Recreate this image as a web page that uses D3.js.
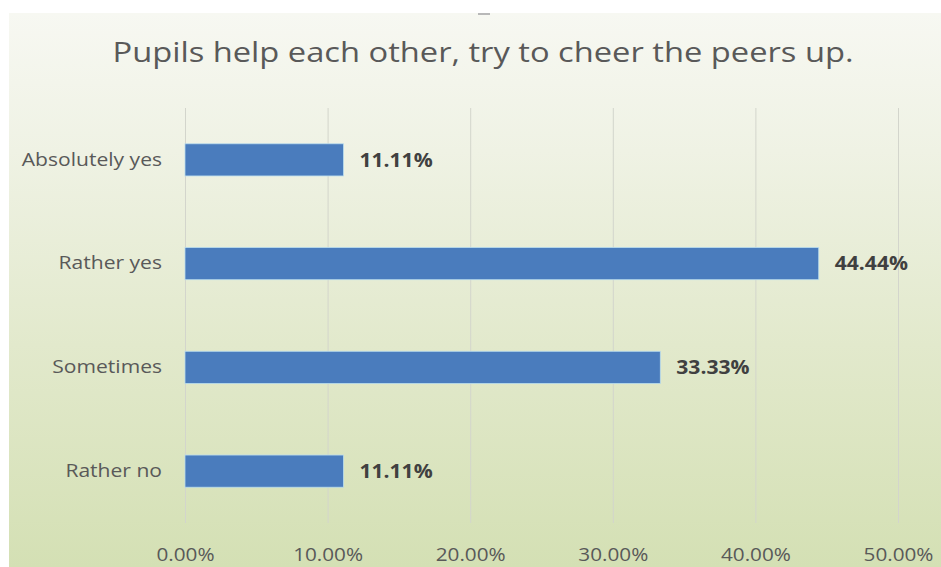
<!DOCTYPE html>
<html><head><meta charset="utf-8">
<script src="https://cdn.jsdelivr.net/npm/d3@7"></script>
<style>body{margin:0;background:#fff}svg{display:block}</style>
</head><body><svg id="c" width="941" height="567"></svg>
<script>
const categories = ["Absolutely yes", "Rather yes", "Sometimes", "Rather no"];
const values = [11.11, 44.44, 33.33, 11.11];
const tickValues = [0, 10, 20, 30, 40, 50];
const title = "Pupils help each other, try to cheer the peers up.";

const W = 941, H = 567;
const FONT = "'Open Sans', 'Noto Sans', sans-serif";
const svg = d3.select("#c");

// widen glyphs horizontally (reference text is horizontally stretched)
function stretch(sel, factor) {
  sel.each(function () {
    const w = this.getComputedTextLength();
    d3.select(this).attr("textLength", w * factor).attr("lengthAdjust", "spacingAndGlyphs");
  });
}

const defs = svg.append("defs");
const grad = defs.append("linearGradient").attr("id", "bg")
  .attr("x1", 0).attr("y1", 0).attr("x2", 0).attr("y2", 1);
grad.append("stop").attr("offset", "0").attr("stop-color", "#f7f8f2");
grad.append("stop").attr("offset", "0.25").attr("stop-color", "#eff2e4");
grad.append("stop").attr("offset", "0.6").attr("stop-color", "#e2e9cc");
grad.append("stop").attr("offset", "1").attr("stop-color", "#d4e0b4");

svg.append("rect").attr("x", 9).attr("y", 13).attr("width", W - 9).attr("height", H - 13)
  .attr("fill", "url(#bg)");
svg.append("rect").attr("x", 478).attr("y", 13).attr("width", 12).attr("height", 2).attr("fill", "#b8b8b8");

const plotTop = 108, plotBottom = 523;
const x = d3.scaleLinear().domain([0, 50]).range([185, 898]);
const y = d3.scaleBand().domain(categories).range([plotTop, plotBottom])
  .paddingInner(0.69).paddingOuter(0.345);

// title
svg.append("text").attr("x", 483).attr("y", 62).attr("text-anchor", "middle")
  .attr("font-family", FONT).attr("font-size", 27).attr("fill", "#595959")
  .text(title).call(stretch, 1.21);

// x axis with gridlines
const xAxis = d3.axisBottom(x).tickValues(tickValues)
  .tickFormat(d => d3.format(".2f")(d) + "%")
  .tickSizeInner(-(plotBottom - plotTop)).tickSizeOuter(0).tickPadding(25);
const gx = svg.append("g").attr("transform", `translate(0,${plotBottom})`).call(xAxis);
gx.select(".domain").remove();
gx.selectAll(".tick line").attr("stroke", "#d3d5cc").attr("stroke-width", 1);
gx.selectAll(".tick text").attr("font-family", FONT).attr("font-size", 18).attr("fill", "#595959")
  .call(stretch, 1.15);

// bars
svg.append("g").selectAll("rect").data(categories).join("rect")
  .attr("x", x(0)).attr("y", d => y(d))
  .attr("width", (d, i) => x(values[i]) - x(0))
  .attr("height", y.bandwidth())
  .attr("fill", "#4a7cbd").attr("stroke", "#b9dcee").attr("stroke-width", 0.8);

// y axis labels
const yAxis = d3.axisLeft(y).tickSize(0).tickPadding(23);
const gy = svg.append("g").attr("transform", `translate(${x(0)},0)`).call(yAxis);
gy.select(".domain").remove();
gy.selectAll(".tick text").attr("font-family", FONT).attr("font-size", 18).attr("fill", "#595959")
  .call(stretch, 1.17);

// value labels
svg.append("g").selectAll("text").data(categories).join("text")
  .attr("x", (d, i) => x(values[i]) + 16)
  .attr("y", d => y(d) + y.bandwidth() / 2)
  .attr("dy", "0.36em")
  .attr("font-family", FONT).attr("font-size", 19).attr("font-weight", "bold")
  .attr("fill", "#404040")
  .text((d, i) => d3.format(".2f")(values[i]) + "%")
  .call(stretch, 1.11);
</script></body></html>
